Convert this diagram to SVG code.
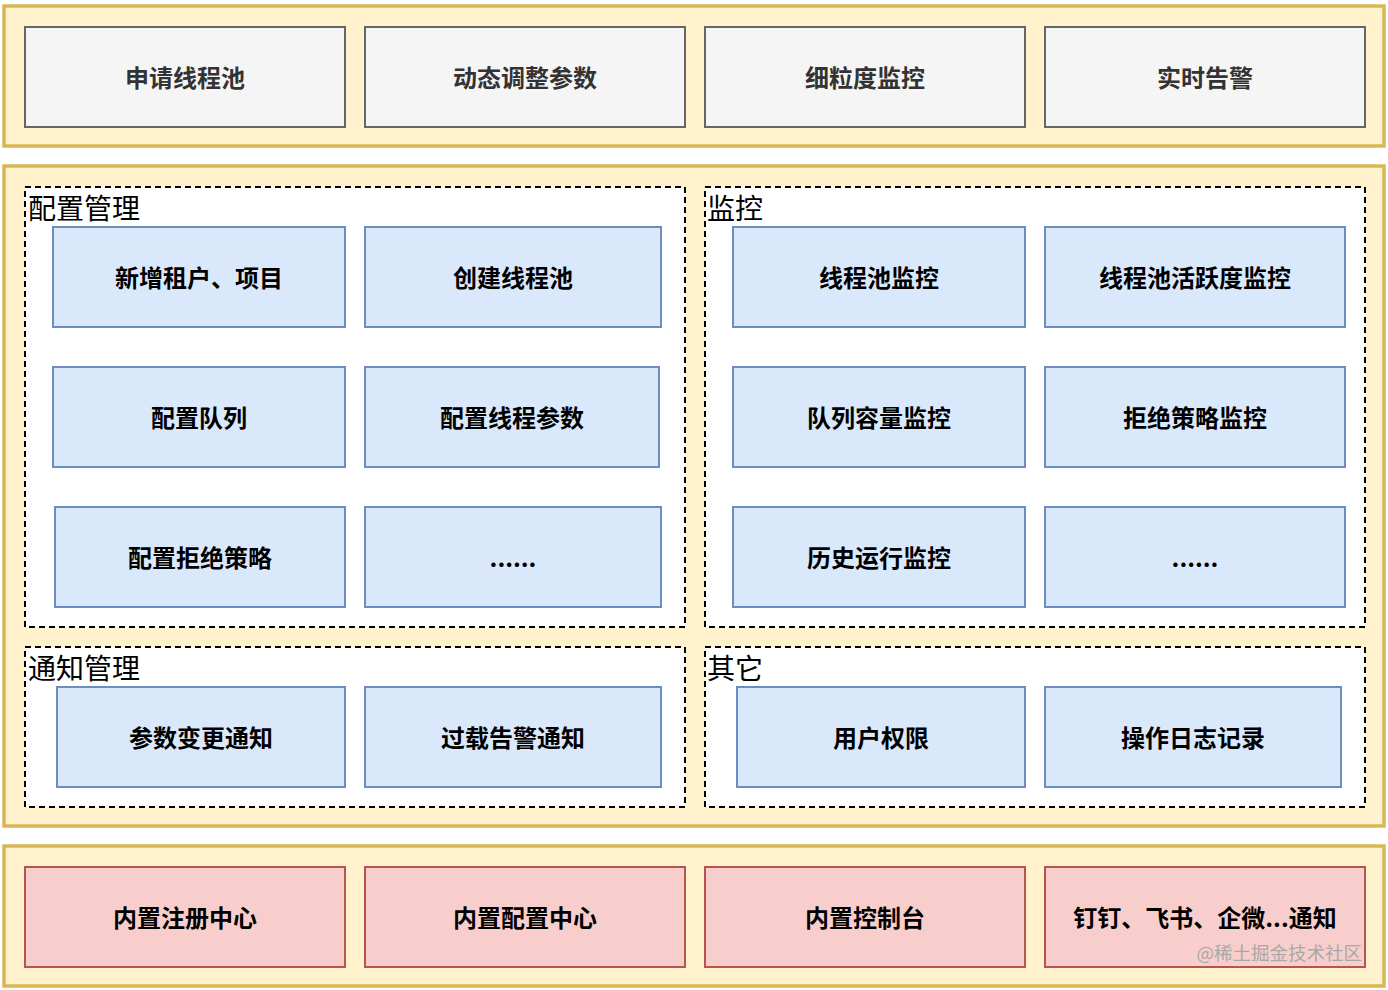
<svg xmlns="http://www.w3.org/2000/svg" width="1388" height="990" viewBox="0 0 1388 990">
<style>
.panel{fill:#fff2cc;stroke:#d6b656;stroke-width:3.5}
.grey{fill:#f5f5f5;stroke:#666666;stroke-width:2}
.blue{fill:#dae8fc;stroke:#6c8ebf;stroke-width:2}
.red{fill:#f8cecc;stroke:#b85450;stroke-width:2}
.dash{fill:#ffffff;stroke:#000000;stroke-width:2;stroke-dasharray:6 4}
.t{font-family:"Noto Sans CJK SC","Liberation Sans",sans-serif;font-size:24px;font-weight:bold;text-anchor:middle;dominant-baseline:central;fill:#000}
.tg{fill:#333333}
.lab{font-family:"Noto Sans CJK SC","Liberation Sans",sans-serif;font-size:28px;fill:#000}
.wm{font-family:"Noto Sans CJK SC","Liberation Sans",sans-serif;font-size:18.5px;fill:#a8a8a8}
</style>
<rect width="1388" height="990" fill="#ffffff"/>
<g id="panel-top"><rect class="panel" x="4" y="6" width="1380" height="140"/></g>
<g id="panel-mid"><rect class="panel" x="4" y="166" width="1380" height="660"/></g>
<g id="panel-bottom"><rect class="panel" x="4" y="846" width="1380" height="140"/></g>

<g id="n-apply"><rect class="grey" x="25" y="27" width="320" height="100"/><text class="t tg" x="185" y="76">申请线程池</text></g>
<g id="n-dyn"><rect class="grey" x="365" y="27" width="320" height="100"/><text class="t tg" x="525" y="76">动态调整参数</text></g>
<g id="n-fine"><rect class="grey" x="705" y="27" width="320" height="100"/><text class="t tg" x="865" y="76">细粒度监控</text></g>
<g id="n-alarm"><rect class="grey" x="1045" y="27" width="320" height="100"/><text class="t tg" x="1205" y="76">实时告警</text></g>

<g id="c-config"><rect class="dash" x="25" y="187" width="660" height="440"/><text class="lab" x="28" y="219">配置管理</text></g>
<g id="c-monitor"><rect class="dash" x="705" y="187" width="660" height="440"/><text class="lab" x="707" y="219">监控</text></g>
<g id="c-notify"><rect class="dash" x="25" y="647" width="660" height="160"/><text class="lab" x="28" y="679">通知管理</text></g>
<g id="c-other"><rect class="dash" x="705" y="647" width="660" height="160"/><text class="lab" x="707" y="679">其它</text></g>

<g id="n-tenant"><rect class="blue" x="53" y="227" width="292" height="100"/><text class="t" x="199" y="276">新增租户、项目</text></g>
<g id="n-create"><rect class="blue" x="365" y="227" width="296" height="100"/><text class="t" x="513" y="276">创建线程池</text></g>
<g id="n-poolmon"><rect class="blue" x="733" y="227" width="292" height="100"/><text class="t" x="879" y="276">线程池监控</text></g>
<g id="n-active"><rect class="blue" x="1045" y="227" width="300" height="100"/><text class="t" x="1195" y="276">线程池活跃度监控</text></g>

<g id="n-queue"><rect class="blue" x="53" y="367" width="292" height="100"/><text class="t" x="199" y="416">配置队列</text></g>
<g id="n-params"><rect class="blue" x="365" y="367" width="294" height="100"/><text class="t" x="512" y="416">配置线程参数</text></g>
<g id="n-queuemon"><rect class="blue" x="733" y="367" width="292" height="100"/><text class="t" x="879" y="416">队列容量监控</text></g>
<g id="n-rejectmon"><rect class="blue" x="1045" y="367" width="300" height="100"/><text class="t" x="1195" y="416">拒绝策略监控</text></g>

<g id="n-reject"><rect class="blue" x="55" y="507" width="290" height="100"/><text class="t" x="200" y="556">配置拒绝策略</text></g>
<g id="n-more1"><rect class="blue" x="365" y="507" width="296" height="100"/><text class="t" x="513" y="556">......</text></g>
<g id="n-history"><rect class="blue" x="733" y="507" width="292" height="100"/><text class="t" x="879" y="556">历史运行监控</text></g>
<g id="n-more2"><rect class="blue" x="1045" y="507" width="300" height="100"/><text class="t" x="1195" y="556">......</text></g>

<g id="n-change"><rect class="blue" x="57" y="687" width="288" height="100"/><text class="t" x="201" y="736">参数变更通知</text></g>
<g id="n-overload"><rect class="blue" x="365" y="687" width="296" height="100"/><text class="t" x="513" y="736">过载告警通知</text></g>
<g id="n-perm"><rect class="blue" x="737" y="687" width="288" height="100"/><text class="t" x="881" y="736">用户权限</text></g>
<g id="n-log"><rect class="blue" x="1045" y="687" width="296" height="100"/><text class="t" x="1193" y="736">操作日志记录</text></g>

<g id="n-reg"><rect class="red" x="25" y="867" width="320" height="100"/><text class="t" x="185" y="916">内置注册中心</text></g>
<g id="n-cfgc"><rect class="red" x="365" y="867" width="320" height="100"/><text class="t" x="525" y="916">内置配置中心</text></g>
<g id="n-console"><rect class="red" x="705" y="867" width="320" height="100"/><text class="t" x="865" y="916">内置控制台</text></g>
<g id="n-im"><rect class="red" x="1045" y="867" width="320" height="100"/><text class="t" x="1205" y="916">钉钉、飞书、企微...通知</text></g>

<g id="connectors"></g>
<text class="wm" x="1362" y="960" text-anchor="end">@稀土掘金技术社区</text>
</svg>
